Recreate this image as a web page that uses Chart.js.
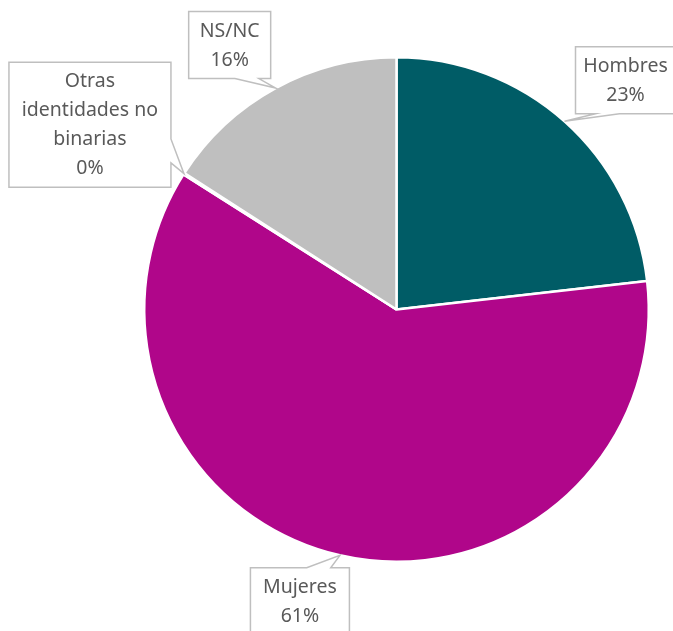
<!DOCTYPE html>
<html>
<head>
<meta charset="utf-8">
<script src="https://cdn.jsdelivr.net/npm/chart.js@4.4.1/dist/chart.umd.min.js"></script>
<style>
	html, body { margin: 0; padding: 0; background: #fff; }
	#wrap { width: 673px; height: 631px; position: relative; }
</style>
</head>
<body>
<div id="wrap"><canvas id="chart"></canvas></div>
<script>
	'use strict';

	var categories = ["Hombres", "Mujeres", "Otras identidades no binarias", "NS/NC"];
	var labelLines = [["Hombres"], ["Mujeres"], ["Otras", "identidades no", "binarias"], ["NS/NC"]];
	var values = [23.2, 60.8, 0.1, 15.9];
	var colors = ["#005C66", "#B0068A", "#E8A33D", "#BFBFBF"];

	// callout placement: box centre offset from the slice edge point, box width, pointer side and position
	var callouts = [
		{ dx: 61, dy: -41, w: 100, side: "bottom", at: 0.32 },
		{ dx: -40, dy: 46, w: 99, side: "top", at: 0.69 },
		{ dx: -94, dy: -49, w: 162, side: "right", at: 0.71 },
		{ dx: -46, dy: -43, w: 82, side: "bottom", at: 0.71 }
	];

	var calloutPlugin = {
		id: "callouts",
		afterDatasetsDraw: function(chart) {
			var ctx = chart.ctx;
			var meta = chart.getDatasetMeta(0);
			var total = values.reduce(function(a, b) { return a + b; }, 0);
			var lineH = 29;
			ctx.save();
			ctx.font = "19.5px 'Noto Sans'";
			meta.data.forEach(function(arc, i) {
				var p = arc.getProps(["x", "y", "startAngle", "endAngle", "outerRadius"], true);
				var mid = (p.startAngle + p.endAngle) / 2;
				var tx = p.x + Math.cos(mid) * p.outerRadius;
				var ty = p.y + Math.sin(mid) * p.outerRadius;
				var lines = labelLines[i].concat([Math.round(values[i] / total * 100) + "%"]);
				var c = callouts[i];
				var w = c.w;
				var h = lines.length * lineH + 9;
				var cx = tx + c.dx, cy = ty + c.dy;
				var l = cx - w / 2, t = cy - h / 2, r = l + w, b = t + h;
				var half = 12;
				var pts;
				if (c.side === "bottom") {
					var bx = l + w * c.at;
					pts = [[l, t], [r, t], [r, b], [bx + half, b], [tx, ty], [bx - half, b], [l, b]];
				} else if (c.side === "top") {
					var bx2 = l + w * c.at;
					pts = [[l, t], [bx2 - half, t], [tx, ty], [bx2 + half, t], [r, t], [r, b], [l, b]];
				} else {
					var by = t + h * c.at;
					pts = [[l, t], [r, t], [r, by - half], [tx, ty], [r, by + half], [r, b], [l, b]];
				}
				ctx.beginPath();
				pts.forEach(function(pt, k) {
					if (k === 0) ctx.moveTo(pt[0], pt[1]); else ctx.lineTo(pt[0], pt[1]);
				});
				ctx.closePath();
				ctx.fillStyle = "#FFFFFF";
				ctx.fill();
				ctx.lineWidth = 1.5;
				ctx.strokeStyle = "#BFBFBF";
				ctx.stroke();
				ctx.fillStyle = "#595959";
				ctx.textAlign = "center";
				ctx.textBaseline = "middle";
				lines.forEach(function(txt, k) {
					ctx.fillText(txt, cx, t + 5 + lineH * (k + 0.5));
				});
			});
			ctx.restore();
		}
	};

	new Chart(document.getElementById("chart").getContext("2d"), {
		type: "pie",
		data: {
			labels: categories,
			datasets: [{
				data: values,
				backgroundColor: colors,
				borderColor: "#FFFFFF",
				borderWidth: 2.5
			}]
		},
		options: {
			responsive: true,
			maintainAspectRatio: false,
			animation: false,
			layout: { padding: { top: 56, bottom: 68, left: 143, right: 23 } },
			plugins: {
				legend: { display: false },
				tooltip: { enabled: false }
			}
		},
		plugins: [calloutPlugin]
	});
</script>
</body>
</html>
